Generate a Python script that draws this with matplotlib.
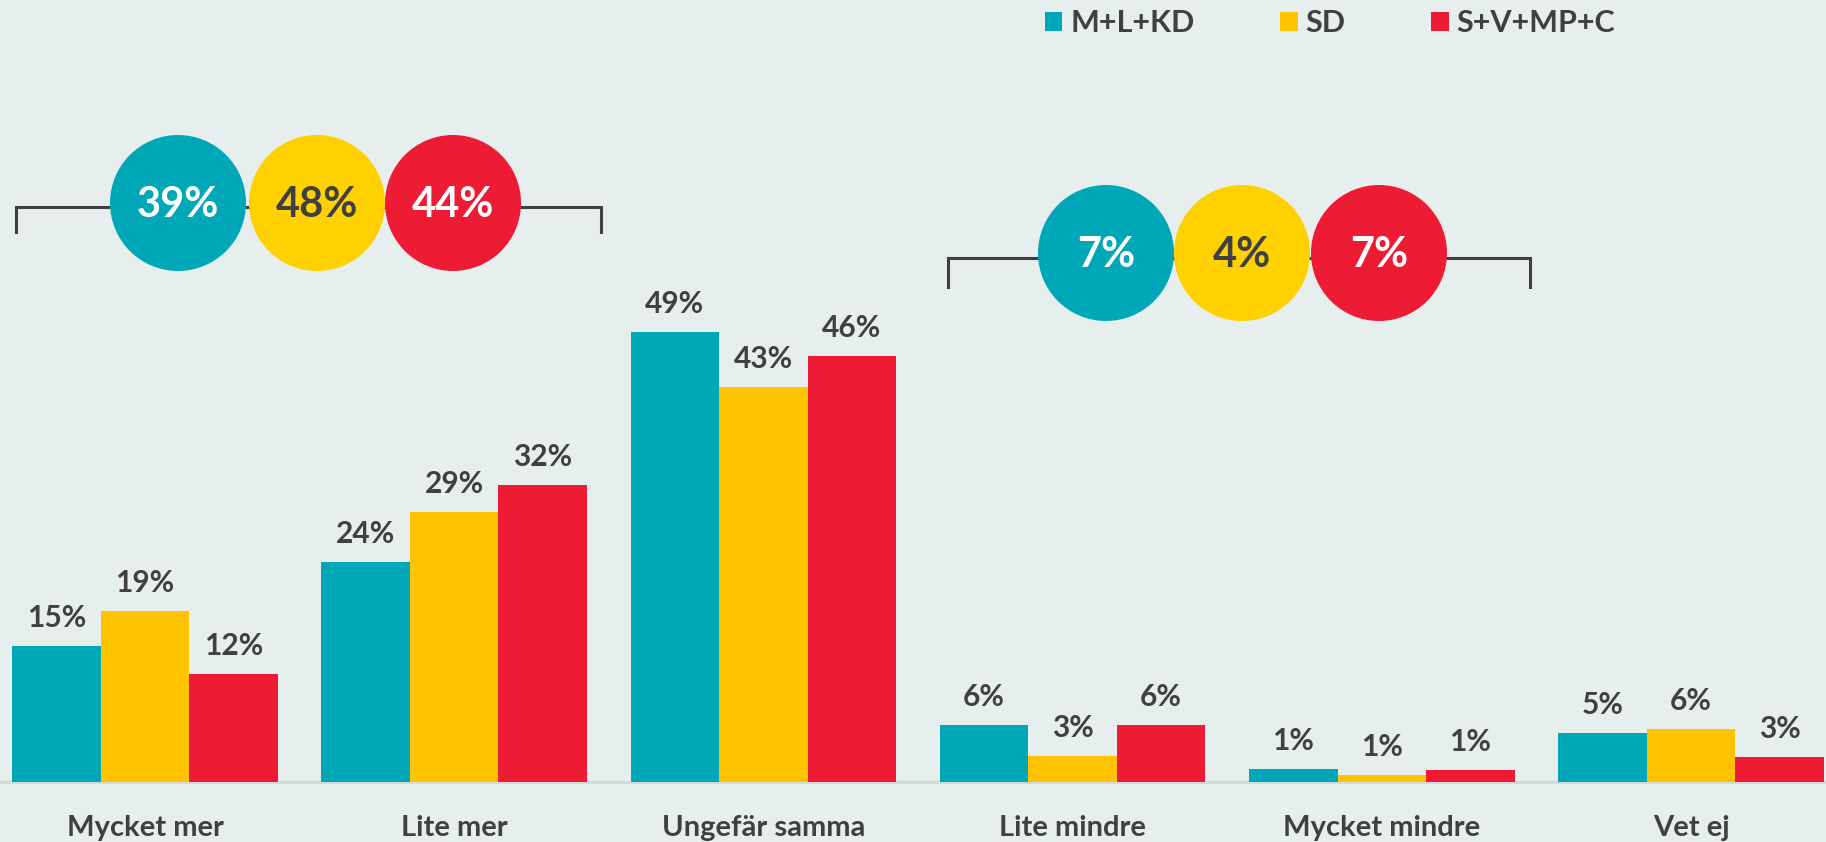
import matplotlib
matplotlib.use("Agg")
import matplotlib.pyplot as plt
from matplotlib.patches import Circle, Patch
import numpy as np

# Data
categories = ["Mycket mer", "Lite mer", "Ungefär samma", "Lite mindre", "Mycket mindre", "Vet ej"]
series_names = ["M+L+KD", "SD", "S+V+MP+C"]
teal_values = [14.8, 24, 49, 6.2, 1.4, 5.3]
yellow_values = [18.6, 29.4, 43, 2.8, 0.8, 5.8]
red_values = [11.8, 32.4, 46.4, 6.2, 1.3, 2.7]

# Summary bubbles (more / less)
more_values = [39, 48, 44]
less_values = [7, 4, 7]

# Colours
bg_color = "#E6EFEE"
text_color = "#404040"
bar_colors = ["#00A8B7", "#FFC300", "#EE1B34"]
bubble_colors = ["#00A8B7", "#FFD100", "#EE1B34"]
bubble_text = ["white", text_color, "white"]

plt.rcParams['font.family'] = ['Lato', 'DejaVu Sans']
plt.rcParams['font.weight'] = 'bold'

W, H = 1826, 842
fig = plt.figure(figsize=(W / 100, H / 100), dpi=100, facecolor=bg_color)

# Main bar axes: baseline at 782 px from top, ~9.18 px per percent
base_px = 782
px_per_pct = 9.18
group_step = 309.2
first_center = 145
ax = fig.add_axes([0, (H - base_px) / H, 1, base_px / H])
ax.set_facecolor(bg_color)
ax.set_xlim(-first_center / group_step, (W - first_center) / group_step)
ax.set_ylim(0, base_px / px_per_pct)

x = np.arange(len(categories))
bar_w = 88.5 / group_step
all_values = [teal_values, yellow_values, red_values]
for i, vals in enumerate(all_values):
    xs = x + (i - 1) * bar_w
    ax.bar(xs, vals, width=bar_w, color=bar_colors[i], zorder=3)
    for xi, v in zip(xs, vals):
        ax.annotate(f"{v:.0f}%", (xi, v), xytext=(0, 19), textcoords='offset pixels',
                    ha='center', va='baseline', fontsize=21.5, fontweight='bold',
                    color=text_color, zorder=4)

# Baseline
ax.axhline(0, color="#D6D9D9", lw=2.2, zorder=2, clip_on=False)

for side in ax.spines.values():
    side.set_visible(False)
ax.set_yticks([])
ax.set_xticks(x)
ax.set_xticklabels(categories, fontsize=21, fontweight='bold', color=text_color)
ax.tick_params(axis='x', length=0, pad=23.5)

# Legend
handles = [Patch(facecolor=c, edgecolor='none') for c in bar_colors]
fig.legend(handles, series_names, loc='center left', bbox_to_anchor=(1045 / W, 1 - 23 / H),
           ncol=3, frameon=False, handlelength=0.57, handleheight=0.57,
           handletextpad=0.26, columnspacing=2.8, borderpad=0, borderaxespad=0,
           labelcolor=text_color, prop={'weight': 'bold', 'size': 22})

# Overlay axes in pixel coordinates for the brackets and bubbles
ov = fig.add_axes([0, 0, 1, 1], facecolor='none')
ov.set_xlim(0, W)
ov.set_ylim(H, 0)
ov.axis('off')


def draw_bracket(x0, x1, y, tick_to, centers, cy, values):
    # bracket line
    ov.plot([x0, x0, x1, x1], [tick_to, y, y, tick_to], color=text_color, lw=2.2,
            solid_joinstyle='miter', zorder=1)
    # bubbles
    for cx, v, fc, tc in zip(centers, values, bubble_colors, bubble_text):
        ov.add_patch(Circle((cx, cy), 68, facecolor=fc, edgecolor='none', zorder=2))
        ov.text(cx, cy + 2, f"{v}%", ha='center', va='center', fontsize=30,
                fontweight='bold', color=tc, zorder=3)


draw_bracket(16, 601, 207, 232, [178, 317, 453], 203, more_values)
draw_bracket(948, 1530, 258, 287, [1106, 1242, 1379], 253, less_values)

fig.savefig("out.png", dpi=100, facecolor=bg_color)
